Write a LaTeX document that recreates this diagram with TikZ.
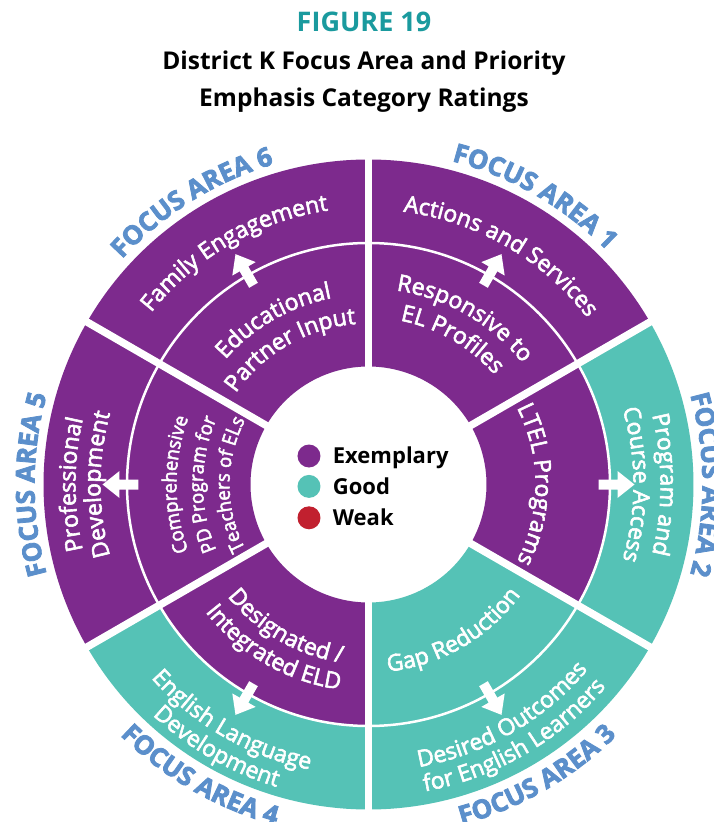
\documentclass[tikz,border=0pt]{standalone}
\usepackage{fontspec}
\setmainfont{Open Sans}
\newfontfamily\medfam{Open Sans}[FakeBold=2.5]
\newfontfamily\narrowfam{Open Sans}[FakeBold=2.5, FakeStretch=0.95]
\newfontfamily\heavyfam{Open Sans}[BoldFeatures={FakeBold=3}]
\usetikzlibrary{positioning,decorations.text}

\definecolor{exemplary}{HTML}{7D2A8D}
\definecolor{good}{HTML}{55C2B6}
\definecolor{weak}{HTML}{C1202F}
\definecolor{areablue}{HTML}{5B8FCB}
\definecolor{figteal}{HTML}{1A9A9E}

\newcommand\ringfont{\medfam\fontsize{23}{23}\selectfont\color{white}}
\newcommand\smallringfont{\narrowfam\fontsize{19.5}{19.5}\selectfont\color{white}}
\newcommand\areafont{\heavyfam\fontsize{26}{26}\selectfont\bfseries\color{areablue}}

\tikzset{
  arclabel/.style={decorate, decoration={text along path, text align=center, text={#1}}},
  gapline/.style={white, line width=7.5pt},
  dot/.style={circle, minimum size=23pt, inner sep=0pt},
  legtxt/.style={font=\fontsize{22}{22}\selectfont\bfseries, inner sep=0pt, text height=15.7pt, text depth=0pt},
  titletxt/.style={font=\fontsize{24.5}{24.5}\selectfont\bfseries, anchor=base, inner sep=0pt}
}

% text on an arc, clockwise (top) or counter clockwise (bottom)
\newcommand\cwtext[3]{\path[arclabel={#3}] (#1+50:#2) arc[start angle=#1+50, end angle=#1-50, radius=#2];}
\newcommand\ccwtext[3]{\path[arclabel={#3}] (#1-50:#2) arc[start angle=#1-50, end angle=#1+50, radius=#2];}

\begin{document}
\begin{tikzpicture}[x=1pt, y=1pt]

  \path[use as bounding box, fill=white] (-368.5,-337.5) rectangle (344.5,484.5);

  % Title
  \node[titletxt, font=\fontsize{27}{27}\selectfont\bfseries, text=figteal] (fig) at (-4.5,452.5) {FIGURE 19};
  \node[titletxt] (title1) at (-4.5,414.5) {District K Focus Area and Priority};
  \node[titletxt] (title2) at (-4.5,377.5) {Emphasis Category Ratings};

  % Rings
  \foreach \a/\cin/\cout in {60/exemplary/exemplary, 0/exemplary/good, -60/good/good,
                             -120/exemplary/good, 180/exemplary/exemplary, 120/exemplary/exemplary} {
    \fill[\cin] (\a-30:118) arc[start angle=\a-30, end angle=\a+30, radius=118]
      -- (\a+30:241.5) arc[start angle=\a+30, end angle=\a-30, radius=241.5] -- cycle;
    \fill[\cout] (\a-30:241.5) arc[start angle=\a-30, end angle=\a+30, radius=241.5]
      -- (\a+30:325) arc[start angle=\a+30, end angle=\a-30, radius=325] -- cycle;
  }
  \foreach \a in {30,90,...,330}
    \draw[gapline] (\a:100) -- (\a:340);
  \draw[white, line width=2.5pt] (0,0) circle[radius=241.5];

  % Arrows
  \foreach \a in {0,60,...,300}
    \fill[white, rotate=\a] (230,-5) -- (249,-5) -- (249,-13.5) -- (266,0)
      -- (249,13.5) -- (249,5) -- (230,5) -- cycle;

  % Outer ring
  \cwtext{60}{275}{|\ringfont|Actions and Services}
  \cwtext{0}{292}{|\ringfont|Program and}
  \cwtext{0}{265}{|\ringfont|Course Access}
  \ccwtext{300}{287}{|\ringfont|Desired Outcomes}
  \ccwtext{300}{312}{|\ringfont|for English Learners}
  \ccwtext{240}{291}{|\ringfont|English Language}
  \ccwtext{240}{316}{|\ringfont|Development}
  \cwtext{180}{293}{|\ringfont|Professional}
  \cwtext{180}{268}{|\ringfont|Development}
  \cwtext{120}{277}{|\ringfont|Family Engagement}

  % Inner ring
  \cwtext{60}{196}{|\ringfont|Responsive to}
  \cwtext{60}{167}{|\ringfont|EL Profiles}
  \cwtext{0}{167}{|\ringfont|LTEL Programs}
  \ccwtext{300}{188}{|\ringfont|Gap Reduction}
  \ccwtext{240}{180}{|\ringfont|Designated /}
  \ccwtext{240}{207}{|\ringfont|Integrated ELD}
  \cwtext{180}{192}{|\smallringfont|Comprehensive}
  \cwtext{180}{165.5}{|\smallringfont|PD Program for}
  \cwtext{180}{139}{|\smallringfont|Teachers of ELs}
  \cwtext{120}{190}{|\ringfont|Educational}
  \cwtext{120}{161}{|\ringfont|Partner Input}

  % Focus areas
  \cwtext{60}{334}{|\areafont|FOCUS AREA 1}
  \cwtext{0}{334}{|\areafont|FOCUS AREA 2}
  \ccwtext{300}{353}{|\areafont|FOCUS AREA 3}
  \ccwtext{240}{353}{|\areafont|FOCUS AREA 4}
  \cwtext{180}{334}{|\areafont|FOCUS AREA 5}
  \cwtext{122}{334}{|\areafont|FOCUS AREA 6}

  % Legend
  \node[dot, fill=exemplary] (ex) at (-59.5,28.5) {};
  \node[dot, fill=good, below=7pt of ex] (gd) {};
  \node[dot, fill=weak, below=8pt of gd] (wk) {};
  \node[legtxt, right=12pt of ex] (exl) {Exemplary};
  \node[legtxt, right=12pt of gd] (gdl) {Good};
  \node[legtxt, right=12pt of wk] (wkl) {Weak};

\end{tikzpicture}
\end{document}
